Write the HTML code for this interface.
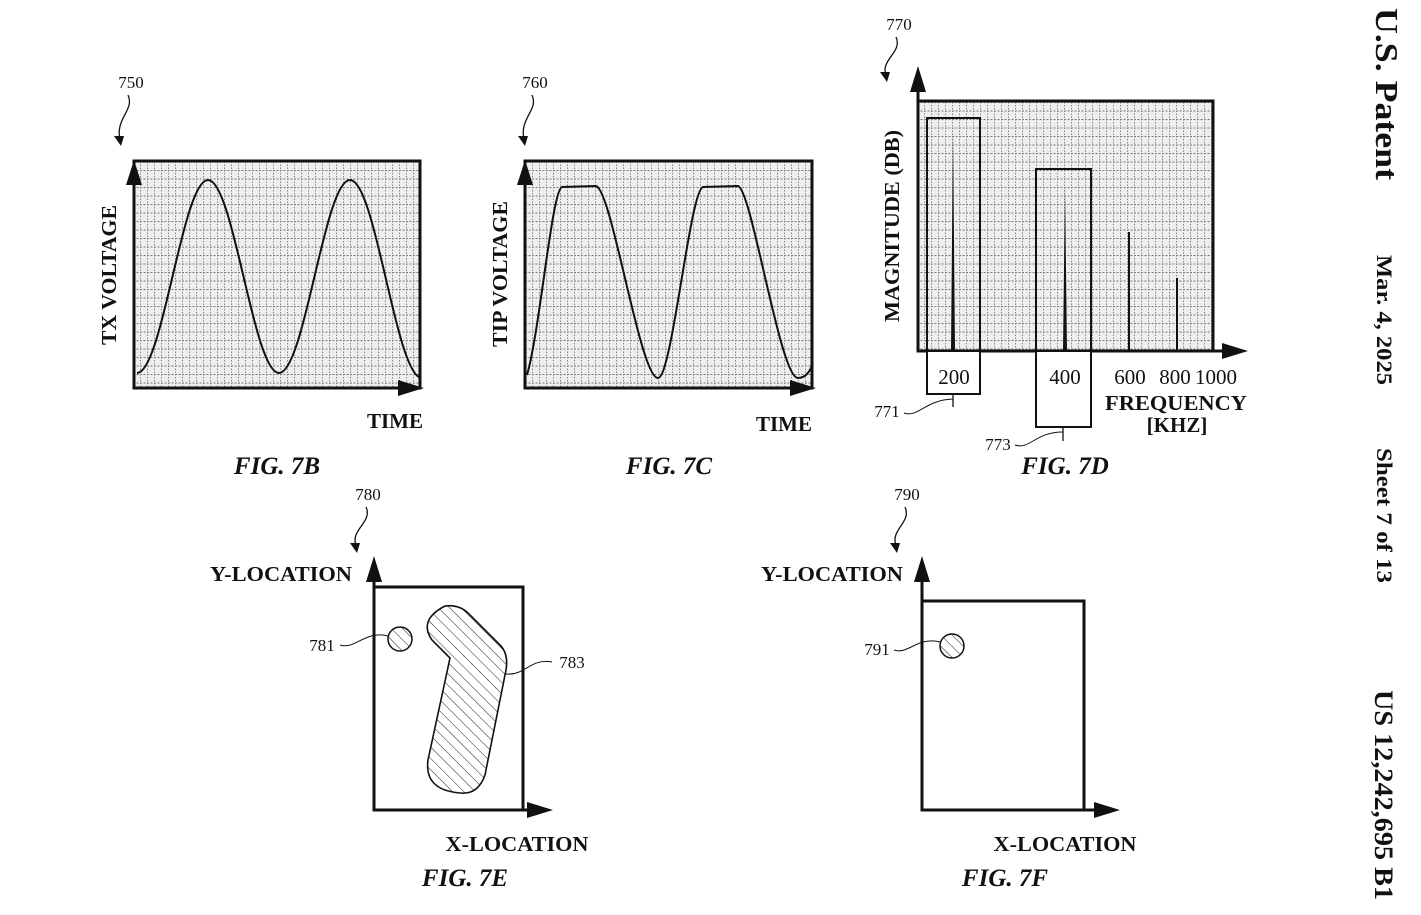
<!DOCTYPE html>
<html><head><meta charset="utf-8"><style>
html,body{margin:0;padding:0;background:#fff;}
svg{display:block;}
text{font-family:"Liberation Serif",serif;fill:#111;}
.b{font-weight:bold;}
.fig{font-weight:bold;font-style:italic;font-size:25px;}
.n{font-size:17px;}
</style></head><body>
<svg width="1421" height="915" viewBox="0 0 1421 915" xmlns="http://www.w3.org/2000/svg">
<defs>
<pattern id="g" width="7" height="8.5" patternUnits="userSpaceOnUse">
<rect width="7" height="8.5" fill="#eeeeee"/>
<line x1="0" y1="0.5" x2="7" y2="0.5" stroke="#777" stroke-width="1" stroke-dasharray="2 1.5"/>
<line x1="0.5" y1="0" x2="0.5" y2="8.5" stroke="#888" stroke-width="1" stroke-dasharray="1.5 1.5"/>
</pattern>
<pattern id="h" width="8" height="8" patternUnits="userSpaceOnUse" patternTransform="rotate(-45)">
<line x1="0" y1="0" x2="0" y2="8" stroke="#222" stroke-width="1"/>
</pattern>
<clipPath id="cb"><rect x="134" y="161" width="286" height="227"/></clipPath>
<clipPath id="cc"><rect x="525" y="161" width="287" height="227"/></clipPath>
</defs>

<!-- FIG 7B -->
<rect x="134" y="161" width="286" height="227" fill="url(#g)" stroke="#111" stroke-width="3"/>
<path clip-path="url(#cb)" d="M137,373 C162.6,373 182.4,180 208,180 C233.6,180 253.4,373 279,373 C304.6,373 324.4,180 350,180 C375.6,180 395.4,373 421,378" fill="none" stroke="#111" stroke-width="2"/>
<polygon points="134,160 126,185 142,185" fill="#111"/>
<polygon points="424,388 398,380 398,396" fill="#111"/>
<text class="b" font-size="21" transform="translate(116,275) rotate(-90)" text-anchor="middle" textLength="140" lengthAdjust="spacingAndGlyphs">TX VOLTAGE</text>
<text class="b" font-size="21" x="395" y="428" text-anchor="middle">TIME</text>
<text class="fig" x="277" y="474" text-anchor="middle">FIG. 7B</text>
<text class="n" x="131" y="88" text-anchor="middle">750</text>
<path d="M128,95 C135,110 115,118 120,140" fill="none" stroke="#111" stroke-width="1.3"/>
<polygon points="121,146 114,136 124,136" fill="#111"/>

<!-- FIG 7C -->
<rect x="525" y="161" width="287" height="227" fill="url(#g)" stroke="#111" stroke-width="3"/>
<path clip-path="url(#cc)" d="M527,375 C540,330 552,190 562,187 L596,186 C612,190 640,378 658,378 C672,378 690,190 703,187 L738,186 C752,190 780,378 798,378 C805,378 810,372 812,365" fill="none" stroke="#111" stroke-width="2"/>
<polygon points="525,160 517,185 533,185" fill="#111"/>
<polygon points="816,388 790,380 790,396" fill="#111"/>
<text class="b" font-size="21" transform="translate(507,274) rotate(-90)" text-anchor="middle" textLength="146" lengthAdjust="spacingAndGlyphs">TIP VOLTAGE</text>
<text class="b" font-size="21" x="784" y="431" text-anchor="middle">TIME</text>
<text class="fig" x="669" y="474" text-anchor="middle">FIG. 7C</text>
<text class="n" x="535" y="88" text-anchor="middle">760</text>
<path d="M532,95 C539,110 519,118 524,140" fill="none" stroke="#111" stroke-width="1.3"/>
<polygon points="525,146 518,136 528,136" fill="#111"/>

<!-- FIG 7D -->
<rect x="918" y="101" width="295" height="250" fill="url(#g)" stroke="#111" stroke-width="3"/>
<line x1="918" y1="101" x2="918" y2="80" stroke="#111" stroke-width="3"/>
<polygon points="918,66 910,92 926,92" fill="#111"/>
<line x1="1213" y1="351" x2="1230" y2="351" stroke="#111" stroke-width="3"/>
<polygon points="1248,351 1222,343 1222,359" fill="#111"/>
<rect x="927" y="118" width="53" height="276" fill="none" stroke="#111" stroke-width="2"/>
<rect x="1036" y="169" width="55" height="258" fill="none" stroke="#111" stroke-width="2"/>
<rect x="928" y="352" width="51" height="41" fill="#fff"/>
<rect x="1037" y="352" width="53" height="74" fill="#fff"/>
<polygon points="951,351 953,130 955,351" fill="#111"/>
<polygon points="1063,351 1065,186 1067,351" fill="#111"/>
<line x1="1129" y1="351" x2="1129" y2="232" stroke="#111" stroke-width="2"/>
<line x1="1177" y1="351" x2="1177" y2="278" stroke="#111" stroke-width="2"/>
<text font-size="21" x="954" y="384" text-anchor="middle">200</text>
<text font-size="21" x="1065" y="384" text-anchor="middle">400</text>
<text font-size="21" x="1130" y="384" text-anchor="middle">600</text>
<text font-size="21" x="1175" y="384" text-anchor="middle">800</text>
<text font-size="21" x="1216" y="384" text-anchor="middle">1000</text>
<text class="b" font-size="21" x="1176" y="410" text-anchor="middle" textLength="142" lengthAdjust="spacingAndGlyphs">FREQUENCY</text>
<text class="b" font-size="21" x="1177" y="432" text-anchor="middle">[KHZ]</text>
<text class="b" font-size="21" transform="translate(899,226) rotate(-90)" text-anchor="middle" textLength="192" lengthAdjust="spacingAndGlyphs">MAGNITUDE (DB)</text>
<line x1="953" y1="394" x2="953" y2="407" stroke="#111" stroke-width="1.3"/>
<path d="M904,413 C918,418 925,400 953,399" fill="none" stroke="#111" stroke-width="1"/>
<text class="n" x="887" y="417" text-anchor="middle">771</text>
<line x1="1063" y1="427" x2="1063" y2="441" stroke="#111" stroke-width="1.3"/>
<path d="M1015,445 C1030,450 1035,432 1063,432" fill="none" stroke="#111" stroke-width="1"/>
<text class="n" x="998" y="450" text-anchor="middle">773</text>
<text class="fig" x="1065" y="474" text-anchor="middle">FIG. 7D</text>
<text class="n" x="899" y="30" text-anchor="middle">770</text>
<path d="M896,37 C903,52 880,60 886,75" fill="none" stroke="#111" stroke-width="1.3"/>
<polygon points="887,82 880,72 890,72" fill="#111"/>

<!-- FIG 7E -->
<rect x="374" y="587" width="149" height="223" fill="none" stroke="#111" stroke-width="3"/>
<line x1="374" y1="587" x2="374" y2="570" stroke="#111" stroke-width="3"/>
<polygon points="374,556 366,582 382,582" fill="#111"/>
<line x1="523" y1="810" x2="535" y2="810" stroke="#111" stroke-width="3"/>
<polygon points="553,810 527,802 527,818" fill="#111"/>
<circle cx="400" cy="639" r="12" fill="url(#h)" stroke="#111" stroke-width="1.5"/>
<path d="M445,606 Q460,604 470,615 L500,645 Q510,655 505,675 L485,775 Q478,795 460,793 Q424,790 428,760 L450,658 L432,640 Q418,620 445,606 Z" fill="url(#h)" stroke="#111" stroke-width="1.6"/>
<path d="M340,645 C355,650 365,630 388,636" fill="none" stroke="#111" stroke-width="1"/>
<text class="n" x="322" y="651" text-anchor="middle">781</text>
<path d="M506,674 C525,676 530,658 552,662" fill="none" stroke="#111" stroke-width="1"/>
<text class="n" x="572" y="668" text-anchor="middle">783</text>
<text class="b" font-size="21" x="281" y="581" text-anchor="middle" textLength="142" lengthAdjust="spacingAndGlyphs">Y-LOCATION</text>
<text class="b" font-size="21" x="517" y="851" text-anchor="middle" textLength="143" lengthAdjust="spacingAndGlyphs">X-LOCATION</text>
<text class="fig" x="465" y="886" text-anchor="middle">FIG. 7E</text>
<text class="n" x="368" y="500" text-anchor="middle">780</text>
<path d="M366,507 C373,522 350,530 356,545" fill="none" stroke="#111" stroke-width="1.3"/>
<polygon points="357,553 350,543 360,543" fill="#111"/>

<!-- FIG 7F -->
<rect x="922" y="601" width="162" height="209" fill="none" stroke="#111" stroke-width="3"/>
<line x1="922" y1="601" x2="922" y2="570" stroke="#111" stroke-width="3"/>
<polygon points="922,556 914,582 930,582" fill="#111"/>
<line x1="1084" y1="810" x2="1100" y2="810" stroke="#111" stroke-width="3"/>
<polygon points="1120,810 1094,802 1094,818" fill="#111"/>
<circle cx="952" cy="646" r="12" fill="url(#h)" stroke="#111" stroke-width="1.5"/>
<path d="M894,650 C908,655 918,636 940,642" fill="none" stroke="#111" stroke-width="1"/>
<text class="n" x="877" y="655" text-anchor="middle">791</text>
<text class="b" font-size="21" x="832" y="581" text-anchor="middle" textLength="142" lengthAdjust="spacingAndGlyphs">Y-LOCATION</text>
<text class="b" font-size="21" x="1065" y="851" text-anchor="middle" textLength="143" lengthAdjust="spacingAndGlyphs">X-LOCATION</text>
<text class="fig" x="1005" y="886" text-anchor="middle">FIG. 7F</text>
<text class="n" x="907" y="500" text-anchor="middle">790</text>
<path d="M905,507 C912,522 890,530 896,545" fill="none" stroke="#111" stroke-width="1.3"/>
<polygon points="897,553 890,543 900,543" fill="#111"/>

<!-- header -->
<text class="b" font-size="32" transform="translate(1376,8) rotate(90)" textLength="172" lengthAdjust="spacingAndGlyphs">U.S. Patent</text>
<text class="b" font-size="22" transform="translate(1377,255) rotate(90)" textLength="130" lengthAdjust="spacingAndGlyphs">Mar. 4, 2025</text>
<text class="b" font-size="22" transform="translate(1377,448) rotate(90)" textLength="135" lengthAdjust="spacingAndGlyphs">Sheet 7 of 13</text>
<text class="b" font-size="26" transform="translate(1375,690) rotate(90)" textLength="210" lengthAdjust="spacingAndGlyphs">US 12,242,695 B1</text>
</svg>
</body></html>
